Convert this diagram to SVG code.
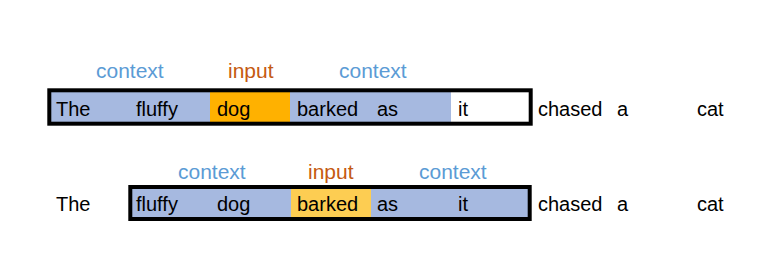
<svg xmlns="http://www.w3.org/2000/svg" width="778" height="271" viewBox="0 0 778 271">
<style>
.w{font-family:"Liberation Sans",Arial,sans-serif;font-size:20px;fill:#000}
.ctx{font-family:"Liberation Sans",Arial,sans-serif;font-size:21px;fill:#5b9bd5}
.inp{font-family:"Liberation Sans",Arial,sans-serif;font-size:21px;fill:#c55a11}
.box{fill:none;stroke:#000;stroke-width:4}
.blue{fill:#a6b9e0}
</style>
<rect width="778" height="271" fill="#fff"/>
<g id="row1">
<rect class="blue" x="51" y="92" width="159" height="30"/>
<rect x="210" y="92" width="80" height="30" fill="#ffb100"/>
<rect class="blue" x="290" y="92" width="161" height="30"/>
<rect class="box" x="49.3" y="90.3" width="481.4" height="33.4"/>
<text class="ctx" x="96" y="78">context</text>
<text class="inp" x="228" y="78">input</text>
<text class="ctx" x="339" y="78">context</text>
<text class="w" x="56" y="116">The</text>
<text class="w" x="136" y="116">fluffy</text>
<text class="w" x="217" y="116">dog</text>
<text class="w" x="297" y="116">barked</text>
<text class="w" x="377" y="116">as</text>
<text class="w" x="458" y="116">it</text>
<text class="w" x="538" y="116">chased</text>
<text class="w" x="617" y="116">a</text>
<text class="w" x="697" y="116">cat</text>
</g>
<g id="row2">
<rect class="blue" x="132" y="187" width="159" height="32"/>
<rect x="291" y="187" width="80" height="32" fill="#fdcd52"/>
<rect class="blue" x="371" y="187" width="158" height="32"/>
<rect class="box" x="130.3" y="187" width="399.4" height="32"/>
<text class="ctx" x="178" y="179">context</text>
<text class="inp" x="308" y="179">input</text>
<text class="ctx" x="419" y="179">context</text>
<text class="w" x="56" y="211">The</text>
<text class="w" x="136" y="211">fluffy</text>
<text class="w" x="217" y="211">dog</text>
<text class="w" x="297" y="211">barked</text>
<text class="w" x="377" y="211">as</text>
<text class="w" x="458" y="211">it</text>
<text class="w" x="538" y="211">chased</text>
<text class="w" x="617" y="211">a</text>
<text class="w" x="697" y="211">cat</text>
</g>
<g id="connectors"/>
</svg>
